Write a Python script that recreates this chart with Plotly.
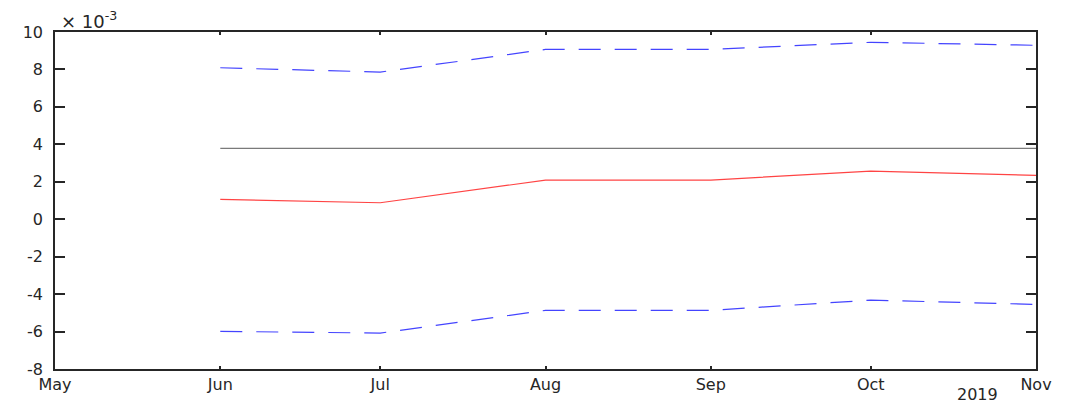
import plotly.graph_objects as go

dates = ["2019-06-01", "2019-07-01", "2019-08-01", "2019-09-01", "2019-10-01", "2019-11-01"]
estimate = [1.06, 0.88, 2.09, 2.09, 2.57, 2.34]      # x10^-3
upper = [8.09, 7.86, 9.07, 9.07, 9.45, 9.29]        # x10^-3
lower = [-5.99, -6.08, -4.87, -4.87, -4.32, -4.55]  # x10^-3
reference = [3.78, 3.78, 3.78, 3.78, 3.78, 3.78]    # x10^-3

tick_dates = ["2019-05-01", "2019-06-01", "2019-07-01", "2019-08-01",
              "2019-09-01", "2019-10-01", "2019-11-01"]
tick_labels = ["May", "Jun", "Jul", "Aug", "Sep", "Oct", "Nov"]
y_ticks = [-8, -6, -4, -2, 0, 2, 4, 6, 8, 10]

FONT = "DejaVu Sans"
AX = "#262626"

fig = go.Figure()
fig.add_trace(go.Scatter(x=dates, y=reference, mode="lines",
                         line=dict(color="#7a7a7a", width=1.2)))
fig.add_trace(go.Scatter(x=dates, y=upper, mode="lines",
                         line=dict(color="#4444ff", width=1.2, dash="22px,14px")))
fig.add_trace(go.Scatter(x=dates, y=lower, mode="lines",
                         line=dict(color="#4444ff", width=1.2, dash="22px,14px")))
fig.add_trace(go.Scatter(x=dates, y=estimate, mode="lines",
                         line=dict(color="#ff4444", width=1.2)))

# page has an 8px body margin, so the figure is sized to fit inside it
fig.update_layout(
    width=1059, height=399,
    margin=dict(l=47, r=31, t=24, b=38),
    paper_bgcolor="white", plot_bgcolor="white",
    showlegend=False,
    font=dict(family=FONT, size=16, color=AX),
)
fig.update_xaxes(
    type="date", range=["2019-05-01", "2019-11-01"],
    tickmode="array", tickvals=tick_dates, ticktext=tick_labels,
    ticks="inside", ticklen=3, tickwidth=1.5, tickcolor=AX,
    showline=True, linecolor=AX, linewidth=1.5, mirror="ticks",
    showgrid=False, zeroline=False,
    tickfont=dict(family=FONT, size=16, color=AX),
)
fig.update_yaxes(
    range=[-8, 10],
    tickmode="array", tickvals=y_ticks, ticktext=[str(v) for v in y_ticks],
    ticks="inside", ticklen=10, tickwidth=1.5, tickcolor=AX,
    showline=True, linecolor=AX, linewidth=1.5, mirror="ticks",
    showgrid=False, zeroline=False, ticklabelstandoff=7,
    tickfont=dict(family=FONT, size=16, color=AX),
)
fig.add_annotation(text="\u00d7 10<sup>-3</sup>", xref="paper", yref="paper",
                   x=0.004, y=0.995, xanchor="left", yanchor="bottom",
                   showarrow=False, font=dict(family=FONT, size=18, color=AX))
fig.add_annotation(text="2019", xref="paper", yref="paper",
                   x=0.94, y=-0.045, xanchor="center", yanchor="top",
                   borderpad=0, showarrow=False,
                   font=dict(family=FONT, size=16, color=AX))

fig.write_html("out.html")
